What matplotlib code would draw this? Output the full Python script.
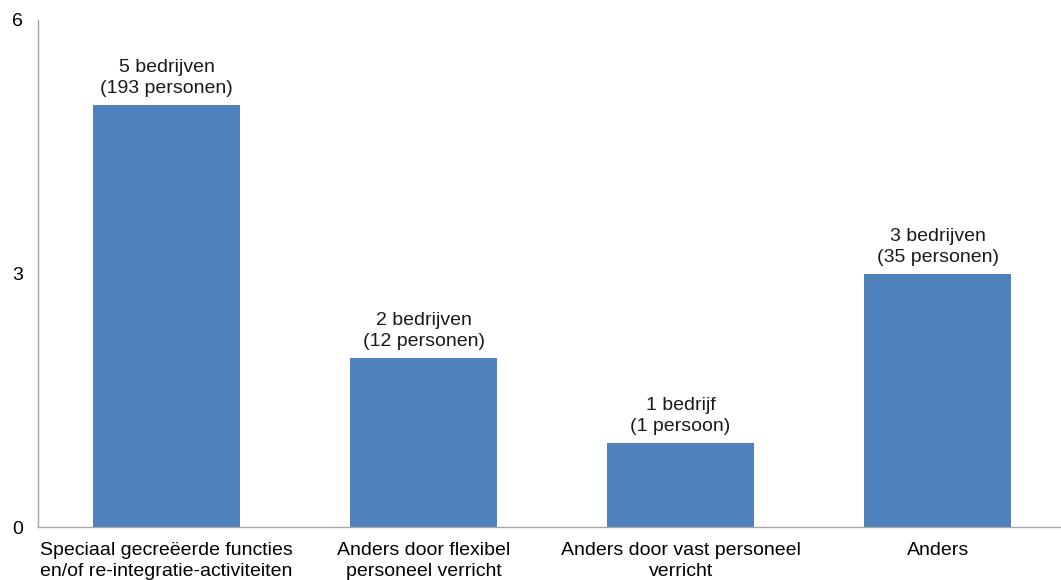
import matplotlib
matplotlib.use("Agg")
import matplotlib.pyplot as plt

categories = [
    "Speciaal gecreëerde functies\nen/of re-integratie-activiteiten",
    "Anders door flexibel\npersoneel verricht",
    "Anders door vast personeel\nverricht",
    "Anders",
]
values = [5, 2, 1, 3]
bar_labels = [
    "5 bedrijven\n(193 personen)",
    "2 bedrijven\n(12 personen)",
    "1 bedrijf\n(1 persoon)",
    "3 bedrijven\n(35 personen)",
]
yticks = [0, 3, 6]

plt.rcParams["font.family"] = ["Liberation Sans", "DejaVu Sans"]

fig = plt.figure(figsize=(10.61, 5.80), dpi=100)
ax = fig.add_axes([38 / 1061, 53 / 580, 1023 / 1061, 507 / 580])

x = range(len(categories))
bars = ax.bar(x, values, width=0.57, color="#4F81BD")
for xi, v, lab in zip(x, values, bar_labels):
    ax.text(xi, v + 0.09, lab, ha="center", va="bottom", fontsize=14,
            linespacing=1.32, color="#1a1a1a")

ax.set_xlim(-0.5, 3.48)
ax.set_ylim(0, 6)
ax.set_yticks(yticks)
ax.set_yticklabels([str(t) for t in yticks], fontsize=14)
ax.set_xticks(list(x))
ax.set_xticklabels(categories, fontsize=14, linespacing=1.3)
ax.tick_params(axis="both", length=0)
ax.tick_params(axis="x", pad=11)
ax.tick_params(axis="y", pad=11)

for s in ["top", "right"]:
    ax.spines[s].set_visible(False)
for s in ["left", "bottom"]:
    ax.spines[s].set_color("#A6A6A6")
    ax.spines[s].set_linewidth(1.0)

fig.savefig("out.png", dpi=100)
